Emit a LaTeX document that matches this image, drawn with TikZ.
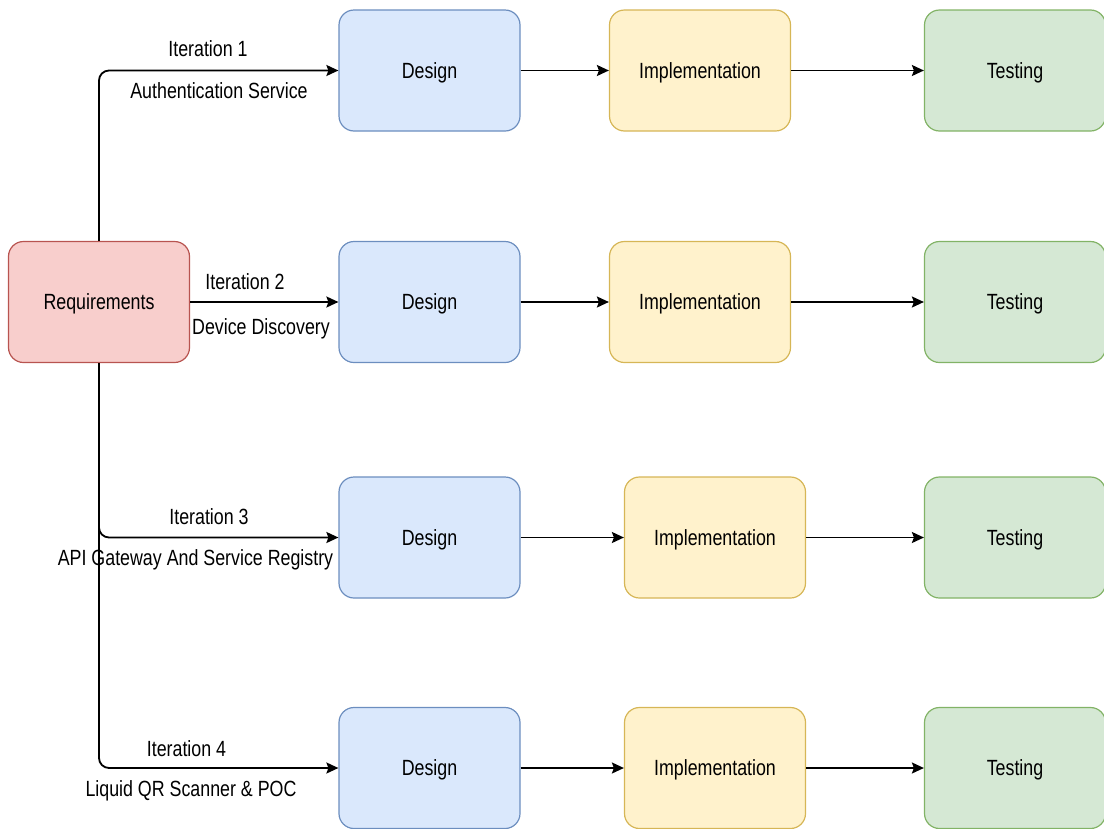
\documentclass[tikz,border=0pt]{standalone}
\usepackage{fontspec}
\setmainfont[FakeStretch=0.81]{Liberation Sans}
\usetikzlibrary{arrows.meta}
\begin{document}
\begin{tikzpicture}[x=1pt,y=-1pt,
  font=\fontsize{22}{26}\selectfont,
  phase/.style={rounded corners=15pt, line width=1.2pt, minimum width=181pt,
    minimum height=121pt, text height=15.5pt, text depth=0pt, inner sep=0pt},
  reqbox/.style={phase, draw=reqline, fill=reqfill},
  desbox/.style={phase, draw=desline, fill=desfill},
  impbox/.style={phase, draw=impline, fill=impfill},
  tstbox/.style={phase, draw=tstline, fill=tstfill},
  conn/.style={line width=1.8pt, -{Stealth[length=12pt,width=11pt,inset=2pt]}, rounded corners=10pt},
  lbl/.style={anchor=base, inner sep=0pt}]
\definecolor{reqfill}{HTML}{F8CECC}\definecolor{reqline}{HTML}{B85450}
\definecolor{desfill}{HTML}{DAE8FC}\definecolor{desline}{HTML}{6C8EBF}
\definecolor{impfill}{HTML}{FFF2CC}\definecolor{impline}{HTML}{D6B656}
\definecolor{tstfill}{HTML}{D5E8D4}\definecolor{tstline}{HTML}{82B366}
\useasboundingbox (0,0) rectangle (1104,828);

% requirements
\node[reqbox] (req) at (99,302) {Requirements};

% iteration rows
\node[desbox] (d1) at (429.5,70.5) {Design};
\node[impbox] (i1) at (700,70.5) {Implementation};
\node[tstbox] (t1) at (1015,70.5) {Testing};

\node[desbox] (d2) at (429.5,302) {Design};
\node[impbox] (i2) at (700,302) {Implementation};
\node[tstbox] (t2) at (1015,302) {Testing};

\node[desbox] (d3) at (429.5,537.5) {Design};
\node[impbox] (i3) at (715,537.5) {Implementation};
\node[tstbox] (t3) at (1015,537.5) {Testing};

\node[desbox] (d4) at (429.5,768) {Design};
\node[impbox] (i4) at (715,768) {Implementation};
\node[tstbox] (t4) at (1015,768) {Testing};

% connectors from requirements
\draw[conn] (req.north) |- (d1.west);
\draw[conn] (req.east) -- (d2.west);
\draw[conn] (req.south) |- (d3.west);
\draw[conn] (req.south) |- (d4.west);

% phase connectors
\foreach \r in {1,2,3,4}{
  \draw[conn] (d\r.east) -- (i\r.west);
  \draw[conn] (i\r.east) -- (t\r.west);
}

% iteration labels
\node[lbl] (l1a) at (208,56) {Iteration 1};
\node[lbl] (l1b) at (219,98) {Authentication Service};
\node[lbl] (l2a) at (245,289) {Iteration 2};
\node[lbl] (l2b) at (261,334) {Device Discovery};
\node[lbl] (l3a) at (209,524) {Iteration 3};
\node[lbl] (l3b) at (195.5,565) {API Gateway And Service Registry};
\node[lbl] (l4a) at (186.5,756) {Iteration 4};
\node[lbl] (l4b) at (191,796) {Liquid QR Scanner \& POC};
\end{tikzpicture}
\end{document}
